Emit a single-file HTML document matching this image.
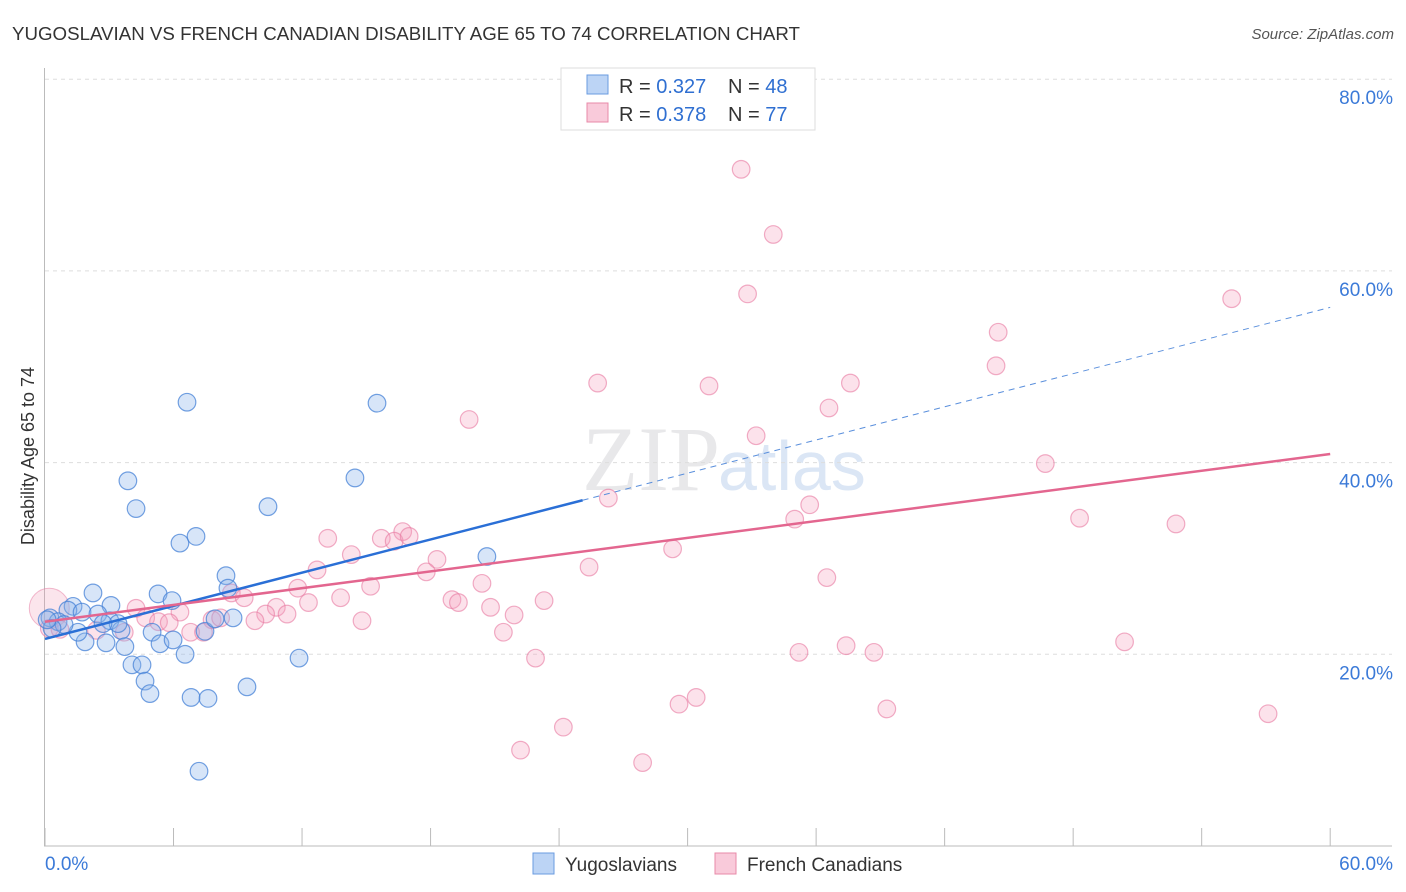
<!DOCTYPE html>
<html><head><meta charset="utf-8"><style>
body{margin:0;background:#fff;font-family:"Liberation Sans",sans-serif;}
svg{display:block}
</style></head><body>
<svg id="chart" width="1406" height="892" xmlns="http://www.w3.org/2000/svg">
<text x="12" y="40" font-size="18" fill="#333" textLength="788" lengthAdjust="spacingAndGlyphs">YUGOSLAVIAN VS FRENCH CANADIAN DISABILITY AGE 65 TO 74 CORRELATION CHART</text>
<text x="1394" y="39" font-size="15" fill="#555" text-anchor="end" font-style="italic">Source: ZipAtlas.com</text>
<text x="720" y="490" font-size="92" fill="#e8e8ea" text-anchor="end" font-family="Liberation Serif,serif">ZIP</text>
<text x="718" y="490" font-size="70" fill="#dbe6f5">atlas</text>
<text transform="translate(34,456) rotate(-90)" font-size="18" fill="#333" text-anchor="middle">Disability Age 65 to 74</text>
<g id="grid"></g><g id="pts"></g><g id="lines"></g>
<g>
<rect x="561" y="68" width="254" height="62" fill="#fff" stroke="#ddd"/>
<rect x="587" y="75" width="21" height="19" fill="#bcd4f5" stroke="#6a9be0"/>
<rect x="587" y="103" width="21" height="19" fill="#f9cada" stroke="#e88aa8"/>
<text x="619" y="93" font-size="20" fill="#333">R = <tspan fill="#2f6fd1">0.327</tspan></text>
<text x="728" y="93" font-size="20" fill="#333">N = <tspan fill="#2f6fd1">48</tspan></text>
<text x="619" y="121" font-size="20" fill="#333">R = <tspan fill="#2f6fd1">0.378</tspan></text>
<text x="728" y="121" font-size="20" fill="#333">N = <tspan fill="#2f6fd1">77</tspan></text>
</g>
<g>
<rect x="533" y="853" width="21" height="21" fill="#bcd4f5" stroke="#6a9be0"/>
<text x="565" y="871" font-size="19" fill="#333">Yugoslavians</text>
<rect x="715" y="853" width="21" height="21" fill="#f9cada" stroke="#e88aa8"/>
<text x="747" y="871" font-size="19" fill="#333">French Canadians</text>
</g>
</svg>
<script>
const yTicks=[20,40,60,80];
const xTickLabels=["0.0%","60.0%"];
const blueX=[6.63,15.5,3.87,14.47,4.25,10.41,6.3,7.05,20.63,8.45,8.54,2.24,5.28,5.93,3.08,1.31,1.07,1.73,2.47,0.23,0.61,3.03,3.55,5.0,5.37,5.98,7.47,8.78,1.87,2.85,3.73,6.54,11.86,4.06,4.53,4.67,4.9,9.43,6.82,7.61,7.19,1.54,0.89,3.41,2.71,7.94,0.33,0.1];
const blueY=[46.3,46.2,38.1,38.4,35.2,35.4,31.6,32.3,30.2,28.2,26.9,26.4,26.3,25.6,25.1,25.0,24.6,24.4,24.2,23.8,23.4,23.5,22.5,22.3,21.1,21.5,22.4,23.8,21.3,21.2,20.8,20.0,19.6,18.9,18.9,17.2,15.9,16.6,15.5,15.4,7.8,22.3,23.1,23.2,23.2,23.7,22.7,23.6];
const pinkX=[32.5,34.0,32.8,55.4,44.5,44.4,25.8,31.0,37.6,36.6,19.8,33.2,46.7,26.3,35.7,35.0,48.3,52.8,13.2,16.7,15.7,16.3,17.0,29.3,14.3,18.3,25.4,17.8,12.7,20.4,15.2,11.8,36.5,8.7,9.3,13.8,19.0,19.3,23.3,12.3,4.25,6.3,10.8,10.3,11.3,20.8,21.9,4.7,5.3,5.8,7.8,8.2,9.8,14.8,2.4,3.7,6.8,7.4,21.4,0.2,0.7,35.2,37.4,38.7,50.4,22.9,30.4,29.6,39.3,57.1,24.2,22.2,27.9];
const pinkY=[70.6,63.8,57.6,57.1,53.6,50.1,48.3,48.0,48.3,45.7,44.5,42.8,39.9,36.3,35.6,34.1,34.2,33.6,32.1,32.8,32.1,31.8,32.3,31.0,30.4,29.9,29.1,28.6,28.8,27.4,27.1,26.9,28.0,26.4,25.9,25.9,25.7,25.4,25.6,25.4,24.8,24.4,24.9,24.2,24.2,24.9,24.1,23.8,23.4,23.3,23.6,23.8,23.5,23.5,22.5,22.3,22.3,22.3,22.3,22.7,22.6,20.2,20.9,20.2,21.3,19.6,15.5,14.8,14.3,13.8,12.4,10.0,8.7];
const blueTrend=[21.6,56.2], pinkTrend=[23.4,40.9], blueSolidEnd=25.1;
const NS="http://www.w3.org/2000/svg";
const sx=v=>45+v*21.42, sy=v=>846-v*9.585;
function mk(t,a,p){const e=document.createElementNS(NS,t);for(const k in a)e.setAttribute(k,a[k]);p.appendChild(e);return e;}
const grid=document.getElementById('grid');
for(const t of yTicks){
 const l=mk('line',{x1:45,x2:1392,y1:sy(t),y2:sy(t),stroke:'#ddd','stroke-dasharray':'4,4'},grid);
 
 
 const tx=mk('text',{x:1393,y:sy(t)+25,'font-size':19,fill:'#3b7ad8','text-anchor':'end'},grid);
 tx.textContent=t.toFixed(1)+'%';
 
 
}
const ax=mk('line',{x1:44.5,x2:44.5,y1:68,y2:846,stroke:'#bbb'},grid);


const bx=mk('line',{x1:44,x2:1392,y1:846,y2:846,stroke:'#bbb'},grid);


for(let i=0;i<=10;i++){const x=sx(i*6);const t=mk('line',{x1:x,x2:x,y1:828,y2:846,stroke:'#bbb'},grid);
 
 }
xTickLabels.forEach((s,i)=>{const t=mk('text',{x:i?1393:45,y:870,'font-size':19,fill:'#3b7ad8','text-anchor':i?'end':'start'},grid);t.textContent=s;
 
 });
const pts=document.getElementById('pts');
const big=mk('circle',{cx:sx(0.2),cy:sy(24.8),r:20,fill:'rgba(240,150,180,0.25)',stroke:'rgba(230,120,160,0.5)'},pts);


pinkX.forEach((x,i)=>{const c=mk('circle',{cx:sx(x),cy:sy(pinkY[i]),r:8.8,fill:'rgba(244,160,190,0.3)',stroke:'rgba(232,120,160,0.6)','stroke-width':1.2},pts);
 
 });
blueX.forEach((x,i)=>{const c=mk('circle',{cx:sx(x),cy:sy(blueY[i]),r:8.8,fill:'rgba(140,180,235,0.35)',stroke:'rgba(70,130,215,0.75)','stroke-width':1.2},pts);
 
 });
const lines=document.getElementById('lines');
const by=x=>blueTrend[0]+(blueTrend[1]-blueTrend[0])*x/60;
const l1=mk('line',{x1:sx(0),y1:sy(blueTrend[0]),x2:sx(blueSolidEnd),y2:sy(by(blueSolidEnd)),stroke:'#2a6fd6','stroke-width':2.5},lines);


const l2=mk('line',{x1:sx(blueSolidEnd),y1:sy(by(blueSolidEnd)),x2:sx(60),y2:sy(blueTrend[1]),stroke:'#5a8fdc','stroke-width':1,'stroke-dasharray':'6,5'},lines);


const l3=mk('line',{x1:sx(0),y1:sy(pinkTrend[0]),x2:sx(60),y2:sy(pinkTrend[1]),stroke:'#e3668f','stroke-width':2.5},lines);


</script>
</body></html>
